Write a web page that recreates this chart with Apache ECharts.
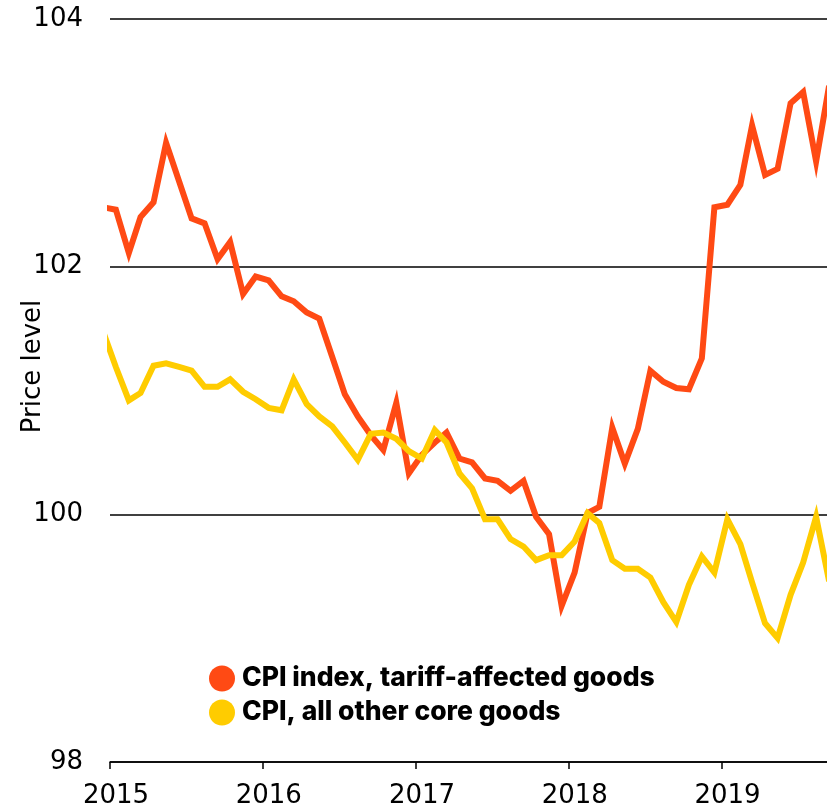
<!DOCTYPE html>
<html>
<head>
<meta charset="utf-8">
<script src="https://cdn.jsdelivr.net/npm/echarts@6/dist/echarts.min.js"></script>
<style>
html,body{margin:0;padding:0;background:#fff;}
#chart{width:827px;height:809px;}
</style>
</head>
<body>
<div id="chart"></div>
<script>
// Monthly observations (plotted mid-month)
var months = [
  '2014-12',
  '2015-01','2015-02','2015-03','2015-04','2015-05','2015-06','2015-07','2015-08','2015-09','2015-10','2015-11','2015-12',
  '2016-01','2016-02','2016-03','2016-04','2016-05','2016-06','2016-07','2016-08','2016-09','2016-10','2016-11','2016-12',
  '2017-01','2017-02','2017-03','2017-04','2017-05','2017-06','2017-07','2017-08','2017-09','2017-10','2017-11','2017-12',
  '2018-01','2018-02','2018-03','2018-04','2018-05','2018-06','2018-07','2018-08','2018-09','2018-10','2018-11','2018-12',
  '2019-01','2019-02','2019-03','2019-04','2019-05','2019-06','2019-07','2019-08','2019-09'
];
var tariffGoods = [
  102.48,
  102.46,102.11,102.40,102.52,103.00,102.69,102.39,102.35,102.06,102.20,101.78,101.92,
  101.89,101.76,101.72,101.63,101.58,101.27,100.97,100.79,100.64,100.52,100.90,100.33,
  100.48,100.58,100.66,100.45,100.42,100.29,100.27,100.19,100.27,99.98,99.84,99.26,
  99.53,100.01,100.06,100.70,100.41,100.69,101.16,101.07,101.02,101.01,101.26,102.48,
  102.50,102.66,103.14,102.74,102.79,103.32,103.41,102.85,103.46
];
var otherCoreGoods = [
  101.48,
  101.19,100.92,100.98,101.20,101.22,101.19,101.16,101.03,101.03,101.09,100.99,100.93,
  100.86,100.84,101.09,100.89,100.79,100.71,100.58,100.44,100.65,100.66,100.61,100.51,
  100.45,100.68,100.58,100.33,100.21,99.96,99.96,99.80,99.74,99.63,99.67,99.67,
  99.78,100.01,99.93,99.63,99.56,99.56,99.49,99.29,99.13,99.43,99.66,99.53,
  99.96,99.76,99.45,99.12,99.00,99.35,99.61,99.98,99.46
];
var seriesNames = ['CPI index, tariff-affected goods', 'CPI, all other core goods'];
var yTicks = [98, 100, 102, 104];

function pairs(vals) {
  return months.map(function (m, i) { return [m + '-15', vals[i]]; });
}

var chart = echarts.init(document.getElementById('chart'), null, {renderer: 'canvas'});
chart.setOption({
  animation: false,
  backgroundColor: '#ffffff',
  grid: {left: 110, right: 0, top: 19, bottom: 47, containLabel: false, outerBoundsMode: 'none'},
  legend: {
    orient: 'vertical',
    left: 204,
    top: 660,
    icon: 'circle',
    itemWidth: 26,
    itemHeight: 26,
    itemGap: 7,
    data: seriesNames,
    textStyle: {fontFamily: 'Inter', fontWeight: 800, fontSize: 26.5, color: '#000', padding: [0, 0, 0, 2]}
  },
  xAxis: {
    type: 'time',
    min: '2015-01-01',
    max: '2019-09-10',
    minInterval: 365 * 24 * 3600 * 1000,
    maxInterval: 366 * 24 * 3600 * 1000,
    axisLine: {show: true, lineStyle: {color: '#000', width: 1.5}},
    axisTick: {show: true, length: 7, lineStyle: {color: '#000', width: 1.5}},
    splitLine: {show: false},
    minorTick: {show: false},
    axisLabel: {
      formatter: '{yyyy}',
      fontFamily: 'DejaVu Sans',
      fontSize: 26,
      color: '#000',
      margin: 21,
      padding: [0, 0, 0, 12],
      showMinLabel: true,
      showMaxLabel: false,
      hideOverlap: false
    }
  },
  yAxis: {
    type: 'value',
    min: yTicks[0],
    max: yTicks[yTicks.length - 1],
    interval: 2,
    axisLine: {show: false},
    axisTick: {show: false},
    splitLine: {show: true, lineStyle: {color: '#000', width: 1.5}},
    axisLabel: {fontFamily: 'DejaVu Sans', fontSize: 26, color: '#000', margin: 27},
    name: 'Price level',
    nameLocation: 'middle',
    nameRotate: 90,
    nameGap: 64,
    nameMoveOverlap: false,
    nameTextStyle: {fontFamily: 'DejaVu Sans', fontSize: 26, color: '#000', padding: [0, 0, 0, 48]}
  },
  series: [
    {
      name: seriesNames[0],
      type: 'line',
      data: pairs(tariffGoods),
      showSymbol: false,
      symbol: 'none',
      clip: true,
      itemStyle: {color: '#FF4A14'},
      lineStyle: {color: '#FF4A14', width: 6, join: 'miter'},
      z: 2
    },
    {
      name: seriesNames[1],
      type: 'line',
      data: pairs(otherCoreGoods),
      showSymbol: false,
      symbol: 'none',
      clip: true,
      itemStyle: {color: '#FFCC00'},
      lineStyle: {color: '#FFCC00', width: 6, join: 'miter'},
      z: 3
    }
  ]
});
</script>
</body>
</html>
